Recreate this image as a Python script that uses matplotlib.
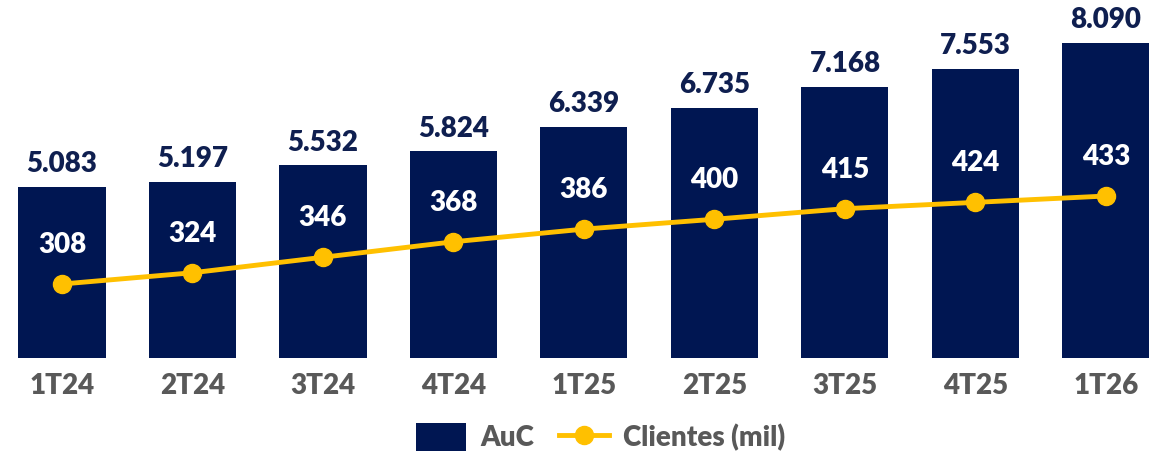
import matplotlib.pyplot as plt
import numpy as np

# data
quarters = ["1T24", "2T24", "3T24", "4T24", "1T25", "2T25", "3T25", "4T25", "1T26"]
auc = [5083, 5197, 5532, 5824, 6339, 6735, 7168, 7553, 8090]
clientes = [308, 324, 346, 368, 386, 400, 415, 424, 433]

NAVY = "#001652"
YELLOW = "#FFC000"
GRAY = "#595959"
LABEL_NAVY = "#0f1f50"
WEIGHT = "heavy"

plt.rcParams["font.family"] = ["Lato", "DejaVu Sans"]
plt.rcParams["font.weight"] = WEIGHT

fig = plt.figure(figsize=(11.66, 4.61), dpi=100)
ax = fig.add_axes([0.0, 0.2234, 1.0, 0.7766])
ax2 = ax.twinx()

x = np.arange(len(quarters))
bars = ax.bar(x, auc, width=0.667, color=NAVY, label="AuC", zorder=2)
ax.set_ylim(1512, 8987)
ax.set_xlim(-0.475, 8.46)

for xi, v in zip(x, auc):
    label = f"{v:,}".replace(",", ".")
    ax.annotate(label, (xi, v), xytext=(0, 7), textcoords="offset points",
                ha="center", va="bottom", fontsize=20, fontweight=WEIGHT,
                color=LABEL_NAVY)

line, = ax2.plot(x, clientes, color=YELLOW, lw=3.5, marker="o", ms=13,
                 label="Clientes (mil)", zorder=3)
ax2.set_ylim(202.9, 711.4)
for xi, v in zip(x, clientes):
    ax2.annotate(str(v), (xi, v), xytext=(0, 28), textcoords="offset points",
                 ha="center", va="center", fontsize=20, fontweight=WEIGHT,
                 color="white")

ax.set_xticks(x)
ax.set_xticklabels(quarters, fontsize=20, fontweight=WEIGHT, color=GRAY)
ax.tick_params(axis="x", length=0, pad=11)
ax.set_yticks([])
ax2.set_yticks([])
for a in (ax, ax2):
    for s in a.spines.values():
        s.set_visible(False)

fig.legend(handles=[bars, line], labels=["AuC", "Clientes (mil)"],
           loc="center", bbox_to_anchor=(0.515, 0.052), ncol=2, frameon=False,
           handlelength=1.8, handleheight=1.2, columnspacing=0.9,
           handletextpad=0.5, labelcolor=GRAY, prop={"weight": WEIGHT, "size": 20})

fig.savefig("out.png", dpi=100)
